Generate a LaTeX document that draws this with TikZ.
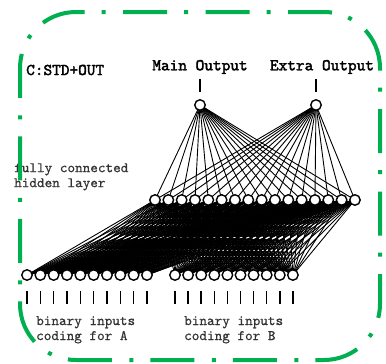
\documentclass[tikz,border=0pt]{standalone}
\usepackage{fontspec}
\newfontfamily\labelfont{lmmono10-regular.otf}[FakeBold=2.2]
\newfontfamily\notefont{lmmono10-regular.otf}[FakeBold=0.6]
\pgfdeclarelayer{background}
\pgfdeclarelayer{foreground}
\pgfsetlayers{background,main,foreground}
\definecolor{framegreen}{RGB}{0,176,80}
\begin{document}
\begin{tikzpicture}[x=1pt,y=-1pt,
  unit/.style={circle,draw=black,line width=1.4pt,fill=white,minimum size=10.5pt,inner sep=0pt},
  wire/.style={black,line width=0.9pt},
  tickmark/.style={black,line width=1.5pt},
  title/.style={font=\fontsize{16.5}{18}\selectfont\labelfont,inner sep=0pt},
  caption/.style={font=\fontsize{14.5}{15}\selectfont\notefont,text=black!80,inner sep=0pt,align=left},
  frame/.style={draw=framegreen,line width=4pt,rounded corners=56pt,
    dash pattern=on 44pt off 17pt on 4pt off 17.5pt,dash phase=50.5pt}]
\useasboundingbox (0,0) rectangle (386,364);

% units: outputs, hidden layer, two input groups
\node[unit] (om) at (200,105) {};
\node[unit] (oe) at (316,105) {};
\foreach \i in {1,...,16} \node[unit] (h\i) at ({155+(\i-1)*13.33},200) {};
\foreach \i in {1,...,10} \node[unit] (a\i) at ({27+(\i-1)*13.33},275) {};
\foreach \i in {1,...,10} \node[unit] (b\i) at ({175+(\i-1)*13.1},275) {};

% full connections
\begin{pgfonlayer}{background}
\foreach \h in {1,...,16} {
  \draw[wire] (om.center) -- (h\h.center);
  \draw[wire] (oe.center) -- (h\h.center);
  \foreach \i in {1,...,10} {
    \draw[wire] (h\h.center) -- (a\i.center);
    \draw[wire] (h\h.center) -- (b\i.center);
  }
}
\end{pgfonlayer}

% output and input lines
\draw[tickmark] (om.north) ++(0,-7) -- ++(0,-13);
\draw[tickmark] (oe.north) ++(0,-7) -- ++(0,-13);
\foreach \i in {1,...,10} {
  \draw[tickmark] (a\i.south) ++(0,10) -- ++(0,13);
  \draw[tickmark] (b\i.south) ++(0,10) -- ++(0,13);
}

% labels
\node[title,anchor=west] (lbl) at (26,70) {C:STD+OUT};
\node[title] (main) at (200,67) {Main Output};
\node[title] (extra) at (322,67) {Extra Output};
\node[caption,anchor=north west] (hid) at (14,163) {fully connected\\hidden layer};
\node[caption,anchor=north west] (ina) at (36,316) {binary inputs\\coding for A};
\node[caption,anchor=north west] (inb) at (184,316) {binary inputs\\coding for B};

% dash-dot frame, started mid-top so the pattern closes evenly
\begin{pgfonlayer}{foreground}
\draw[frame] (200,12) -- (380,12) -- (380,360) -- (20,360) -- (20,12) -- cycle;
\end{pgfonlayer}
\end{tikzpicture}
\end{document}
